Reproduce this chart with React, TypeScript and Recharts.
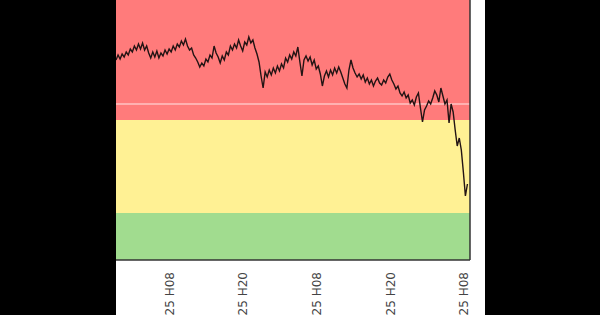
import { LineChart, Line, XAxis, YAxis, ReferenceArea, ReferenceLine } from "recharts";

// hours relative to the first labelled tick (H08), one reading every 20 minutes
const START_HOUR = -8.75;
const STEP_HOURS = 1 / 3;

const readings = [
  20.0, 20.5, 20.1, 20.6, 20.3, 20.8, 20.5, 21.1, 20.8, 21.4,
  21.0, 21.6, 21.1, 21.7, 21.0, 21.4, 20.7, 20.2, 20.8, 20.3,
  20.9, 20.2, 20.7, 20.4, 21.0, 20.6, 21.1, 20.8, 21.4, 21.0,
  21.6, 21.3, 21.9, 21.5, 22.1, 21.4, 21.0, 21.2, 20.5, 20.2,
  19.8, 19.3, 19.7, 19.4, 20.1, 19.8, 20.5, 20.2, 21.4, 20.7,
  20.3, 19.7, 20.4, 20.0, 20.8, 20.5, 21.4, 21.0, 21.6, 21.2,
  22.0, 21.4, 20.9, 21.8, 21.5, 22.3, 21.7, 22.0, 21.2, 20.6,
  19.8, 18.4, 17.2, 18.8, 18.3, 19.0, 18.5, 19.2, 18.7, 19.4,
  18.9, 19.6, 19.2, 20.2, 19.8, 20.5, 20.1, 20.8, 20.4, 21.3,
  19.8, 18.4, 20.0, 20.4, 19.9, 20.3, 19.5, 20.0, 19.1, 19.4,
  18.6, 17.4, 18.4, 18.9, 18.3, 19.0, 18.5, 19.2, 18.7, 19.3,
  18.8, 18.2, 17.6, 17.2, 19.0, 20.0, 19.2, 18.7, 18.3, 18.6,
  18.1, 18.5, 17.8, 18.2, 17.6, 18.0, 17.4, 17.9, 18.2, 17.7,
  17.5, 18.0, 17.7, 18.3, 18.6, 18.0, 17.6, 17.1, 17.4, 16.7,
  16.4, 16.8, 16.2, 16.5, 15.7, 16.0, 15.5, 16.3, 16.7, 15.2,
  13.8, 15.0, 15.4, 15.9, 15.6, 16.2, 16.9, 16.5, 15.8, 17.2,
  16.4, 15.6, 16.0, 13.7, 15.6, 14.8, 13.0, 11.4, 12.2, 11.0,
  8.8, 6.4, 7.6,
];

const tickHours = [0, 12, 24, 36, 48];
const tickLabels = [
  "24/03/2025 H08",
  "24/03/2025 H20",
  "25/03/2025 H08",
  "25/03/2025 H20",
  "26/03/2025 H08",
];

const X_MAX = 49;
const Y_MAX = 26;
const GREEN_TOP = 4.7;
const YELLOW_TOP = 14;
const THRESHOLD = 15.6;

const data = readings.map((value, i) => ({ hour: START_HOUR + i * STEP_HOURS, value }));

function DateTick(props: any) {
  const { x, y, payload } = props;
  const idx = tickHours.indexOf(payload.value);
  return (
    <g transform={`translate(${x},${y})`}>
      <text
        transform="rotate(-90)"
        x={-12}
        dy="0.35em"
        textAnchor="end"
        fill="#444"
        fontSize={12}
        fontFamily="DejaVu Sans"
      >
        {tickLabels[idx]}
      </text>
    </g>
  );
}

export default function App() {
  return (
    <div style={{ position: "fixed", left: 0, top: 0, width: 600, height: 315, background: "#000", overflow: "hidden" }}>
      <div style={{ position: "absolute", left: 116, top: 0, width: 369, height: 315, background: "#fff" }}>
        <LineChart width={369} height={315} data={data} margin={{ top: 0, right: 15, bottom: 0, left: 0 }}>
          <XAxis
            dataKey="hour"
            type="number"
            domain={[START_HOUR, X_MAX]}
            ticks={tickHours}
            tick={<DateTick />}
            tickLine={false}
            tickSize={0}
            tickMargin={0}
            height={55}
            axisLine={{ stroke: "#333", strokeWidth: 1.5 }}
            interval={0}
          />
          <YAxis type="number" domain={[0, Y_MAX]} hide />
          <ReferenceArea y1={0} y2={GREEN_TOP} fill="#a1dc8f" fillOpacity={1} stroke="none" />
          <ReferenceArea y1={GREEN_TOP} y2={YELLOW_TOP} fill="#fff194" fillOpacity={1} stroke="none" />
          <ReferenceArea y1={YELLOW_TOP} y2={Y_MAX} fill="#ff7b7b" fillOpacity={1} stroke="none" />
          <ReferenceLine y={THRESHOLD} stroke="#ffffff" strokeOpacity={0.55} strokeWidth={1.5} />
          <ReferenceLine x={X_MAX} stroke="#333" strokeWidth={1.5} />
          <Line
            type="linear"
            dataKey="value"
            stroke="#231414"
            strokeWidth={1.4}
            dot={false}
            isAnimationActive={false}
          />
        </LineChart>
      </div>
    </div>
  );
}
